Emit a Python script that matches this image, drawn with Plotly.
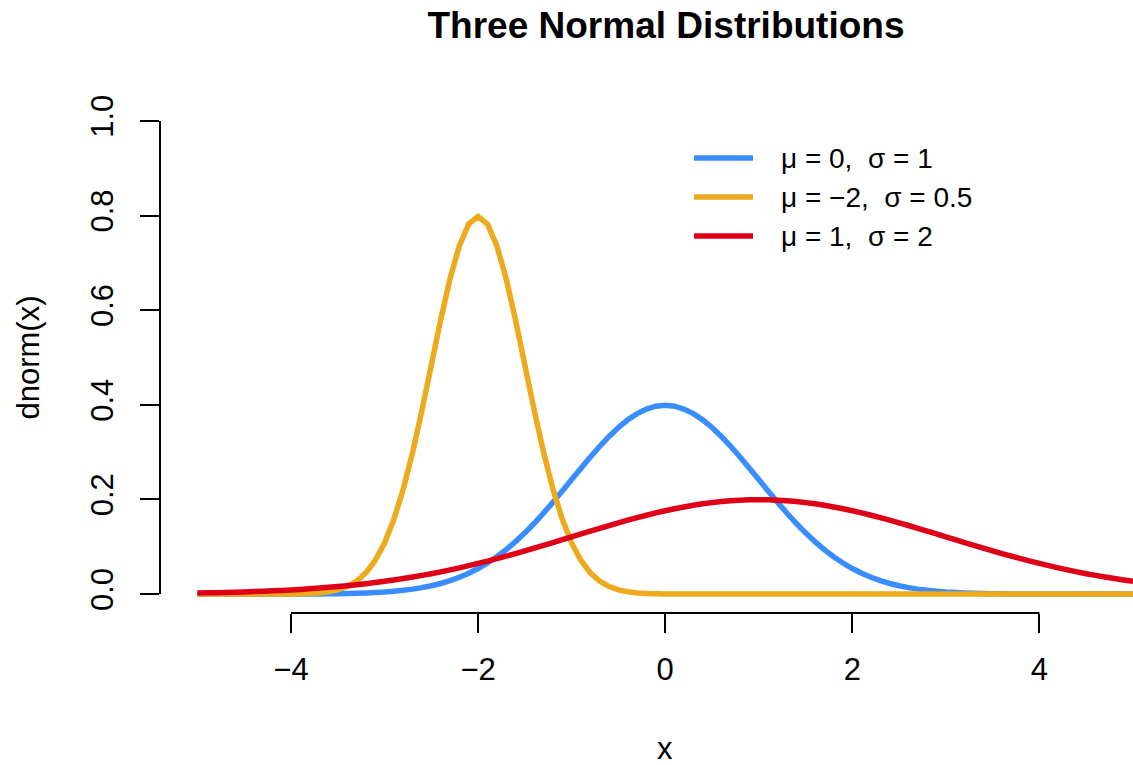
import plotly.graph_objects as go

# Grid of x values shared by the three density curves
x_vals = [-5.0, -4.9, -4.8, -4.7, -4.6, -4.5, -4.4, -4.3, -4.2, -4.1,
          -4.0, -3.9, -3.8, -3.7, -3.6, -3.5, -3.4, -3.3, -3.2, -3.1,
          -3.0, -2.9, -2.8, -2.7, -2.6, -2.5, -2.4, -2.3, -2.2, -2.1,
          -2.0, -1.9, -1.8, -1.7, -1.6, -1.5, -1.4, -1.3, -1.2, -1.1,
          -1.0, -0.9, -0.8, -0.7, -0.6, -0.5, -0.4, -0.3, -0.2, -0.1,
          0.0, 0.1, 0.2, 0.3, 0.4, 0.5, 0.6, 0.7, 0.8, 0.9,
          1.0, 1.1, 1.2, 1.3, 1.4, 1.5, 1.6, 1.7, 1.8, 1.9,
          2.0, 2.1, 2.2, 2.3, 2.4, 2.5, 2.6, 2.7, 2.8, 2.9,
          3.0, 3.1, 3.2, 3.3, 3.4, 3.5, 3.6, 3.7, 3.8, 3.9,
          4.0, 4.1, 4.2, 4.3, 4.4, 4.5, 4.6, 4.7, 4.8, 4.9, 5.0]

# Density values: mu = 0, sigma = 1
dens_std = [0.0000, 0.0000, 0.0000, 0.0000, 0.0000, 0.0000, 0.0000, 0.0000, 0.0000, 0.0001,
            0.0001, 0.0002, 0.0003, 0.0004, 0.0006, 0.0009, 0.0012, 0.0017, 0.0024, 0.0033,
            0.0044, 0.0060, 0.0079, 0.0104, 0.0136, 0.0175, 0.0224, 0.0283, 0.0355, 0.0440,
            0.0540, 0.0656, 0.0790, 0.0940, 0.1109, 0.1295, 0.1497, 0.1714, 0.1942, 0.2179,
            0.2420, 0.2661, 0.2897, 0.3123, 0.3332, 0.3521, 0.3683, 0.3814, 0.3910, 0.3970,
            0.3989, 0.3970, 0.3910, 0.3814, 0.3683, 0.3521, 0.3332, 0.3123, 0.2897, 0.2661,
            0.2420, 0.2179, 0.1942, 0.1714, 0.1497, 0.1295, 0.1109, 0.0940, 0.0790, 0.0656,
            0.0540, 0.0440, 0.0355, 0.0283, 0.0224, 0.0175, 0.0136, 0.0104, 0.0079, 0.0060,
            0.0044, 0.0033, 0.0024, 0.0017, 0.0012, 0.0009, 0.0006, 0.0004, 0.0003, 0.0002,
            0.0001, 0.0001, 0.0000, 0.0000, 0.0000, 0.0000, 0.0000, 0.0000, 0.0000, 0.0000,
            0.0000]

# Density values: mu = -2, sigma = 0.5
dens_narrow = [0.0000, 0.0000, 0.0000, 0.0000, 0.0000, 0.0000, 0.0000, 0.0000, 0.0000, 0.0001,
               0.0003, 0.0006, 0.0012, 0.0025, 0.0048, 0.0089, 0.0158, 0.0272, 0.0448, 0.0709,
               0.1080, 0.1579, 0.2218, 0.2995, 0.3884, 0.4839, 0.5794, 0.6664, 0.7365, 0.7821,
               0.7979, 0.7821, 0.7365, 0.6664, 0.5794, 0.4839, 0.3884, 0.2995, 0.2218, 0.1579,
               0.1080, 0.0709, 0.0448, 0.0272, 0.0158, 0.0089, 0.0048, 0.0025, 0.0012, 0.0006,
               0.0003, 0.0001, 0.0000, 0.0000, 0.0000, 0.0000, 0.0000, 0.0000, 0.0000, 0.0000,
               0.0000, 0.0000, 0.0000, 0.0000, 0.0000, 0.0000, 0.0000, 0.0000, 0.0000, 0.0000,
               0.0000, 0.0000, 0.0000, 0.0000, 0.0000, 0.0000, 0.0000, 0.0000, 0.0000, 0.0000,
               0.0000, 0.0000, 0.0000, 0.0000, 0.0000, 0.0000, 0.0000, 0.0000, 0.0000, 0.0000,
               0.0000, 0.0000, 0.0000, 0.0000, 0.0000, 0.0000, 0.0000, 0.0000, 0.0000, 0.0000,
               0.0000]

# Density values: mu = 1, sigma = 2
dens_wide = [0.0022, 0.0026, 0.0030, 0.0034, 0.0040, 0.0046, 0.0052, 0.0060, 0.0068, 0.0077,
             0.0088, 0.0099, 0.0112, 0.0126, 0.0142, 0.0159, 0.0177, 0.0198, 0.0220, 0.0244,
             0.0270, 0.0298, 0.0328, 0.0360, 0.0395, 0.0431, 0.0470, 0.0511, 0.0555, 0.0600,
             0.0648, 0.0697, 0.0749, 0.0802, 0.0857, 0.0913, 0.0971, 0.1030, 0.1089, 0.1149,
             0.1210, 0.1270, 0.1331, 0.1390, 0.1449, 0.1506, 0.1561, 0.1615, 0.1666, 0.1715,
             0.1760, 0.1803, 0.1841, 0.1876, 0.1907, 0.1933, 0.1955, 0.1972, 0.1985, 0.1992,
             0.1995, 0.1992, 0.1985, 0.1972, 0.1955, 0.1933, 0.1907, 0.1876, 0.1841, 0.1803,
             0.1760, 0.1715, 0.1666, 0.1615, 0.1561, 0.1506, 0.1449, 0.1390, 0.1331, 0.1270,
             0.1210, 0.1149, 0.1089, 0.1030, 0.0971, 0.0913, 0.0857, 0.0802, 0.0749, 0.0697,
             0.0648, 0.0600, 0.0555, 0.0511, 0.0470, 0.0431, 0.0395, 0.0360, 0.0328, 0.0298,
             0.0270]

series_labels = ["μ = 0,\u00a0\u00a0σ = 1", "μ = −2,\u00a0\u00a0σ = 0.5", "μ = 1,\u00a0\u00a0σ = 2"]
series_colors = ["#3A8DFF", "#ECAA1C", "#DF0018"]

x_ticks = [-4, -2, 0, 2, 4]
y_ticks = [0.0, 0.2, 0.4, 0.6, 0.8, 1.0]
y_tick_text = ["0.0", "0.2", "0.4", "0.6", "0.8", "1.0"]

W, H = 1133, 765
ML, MR, MT, MB = 160, 0, 102, 152
FONT = "Liberation Sans, Arial, Helvetica, sans-serif"
LINE_W = 5.5


def px_to_paper_x(px):
    return (px - ML) / (W - ML - MR)


def px_to_paper_y(py):
    return (H - MB - py) / (H - MT - MB)


fig = go.Figure()
for ys, name, col in zip([dens_std, dens_narrow, dens_wide], series_labels, series_colors):
    fig.add_trace(go.Scatter(
        x=x_vals, y=ys, mode="lines", name=name,
        line=dict(color=col, width=LINE_W, simplify=False),
        showlegend=False, hoverinfo="skip",
    ))

# Axis lines spanning only the tick range
shapes = [
    dict(type="line", xref="paper", yref="y", x0=0, x1=0,
         y0=y_ticks[0], y1=y_ticks[-1], line=dict(color="black", width=2)),
    dict(type="line", xref="x", yref="paper", x0=x_ticks[0], x1=x_ticks[-1],
         y0=0, y1=0, line=dict(color="black", width=2)),
]

annotations = [
    # x-axis title, centred under the full plot region
    dict(xref="x", yref="paper", x=0, y=px_to_paper_y(748), xanchor="center",
         yanchor="middle", showarrow=False, text="x",
         font=dict(family=FONT, size=31, color="black")),
]

# Legend: line samples with labels
leg_rows = [158, 197, 236]
for row, name, col in zip(leg_rows, series_labels, series_colors):
    shapes.append(dict(type="line", xref="paper", yref="paper",
                       x0=px_to_paper_x(694), x1=px_to_paper_x(753),
                       y0=px_to_paper_y(row), y1=px_to_paper_y(row),
                       line=dict(color=col, width=LINE_W)))
    annotations.append(dict(xref="paper", yref="paper",
                            x=px_to_paper_x(779), y=px_to_paper_y(row),
                            xanchor="left", yanchor="middle", showarrow=False,
                            text=name, font=dict(family=FONT, size=28, color="black")))

fig.update_layout(
    width=W, height=H,
    margin=dict(l=ML, r=MR, t=MT, b=MB, pad=0),
    paper_bgcolor="white", plot_bgcolor="white",
    font=dict(family=FONT, color="black", size=31),
    title=dict(text="<b>Three Normal Distributions</b>", xref="container", yref="container",
               x=666 / W, y=1 - 25 / H, xanchor="center", yanchor="middle",
               font=dict(family=FONT, size=37, color="black")),
    xaxis=dict(range=[-5.4, 5.0], tickvals=x_ticks, ticks="outside", ticklen=19,
               tickwidth=2, tickcolor="black", showgrid=False, zeroline=False,
               showline=False, tickfont=dict(size=31), automargin=False,
               ticklabelstandoff=10),
    yaxis=dict(range=[-0.04, 1.04], tickvals=y_ticks, ticktext=y_tick_text,
               ticks="outside", ticklen=19, tickwidth=2, tickcolor="black",
               showgrid=False, zeroline=False, showline=False, tickangle=-90,
               tickfont=dict(size=31), automargin=False, ticklabelstandoff=15,
               title=dict(text="dnorm(x)", font=dict(size=31), standoff=35)),
    shapes=shapes,
    annotations=annotations,
)

fig.write_html("out.html")
